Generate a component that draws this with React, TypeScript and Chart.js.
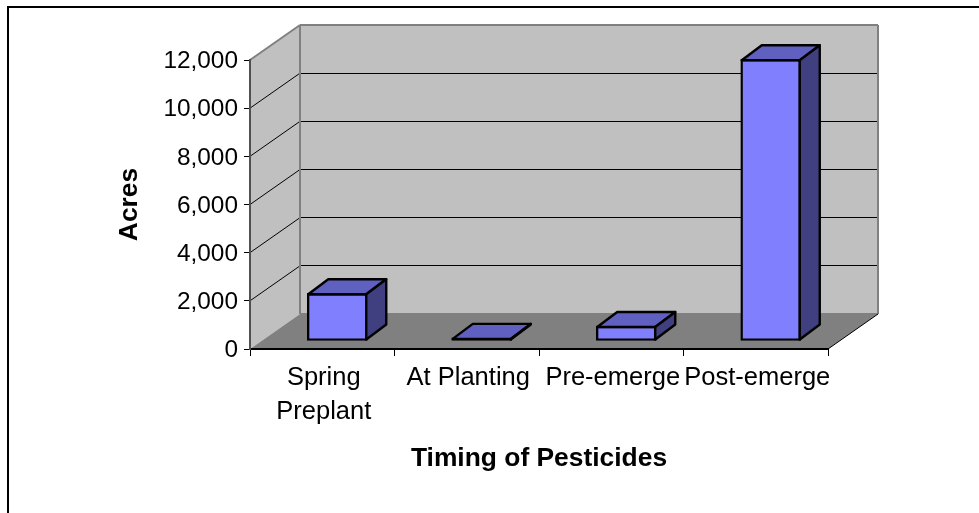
import React, { useEffect, useRef } from "react";
import { Chart, registerables } from "chart.js";

Chart.register(...registerables);

const categories = [["Spring", "Preplant"], "At Planting", "Pre-emerge", "Post-emerge"];
const acres = [1980, 130, 620, 11700];
const yTicksMax = 12000;
const yTickStep = 2000;
const xTitle = "Timing of Pesticides";
const yTitle = "Acres";

const FONT = "'Liberation Sans', Arial, sans-serif";
const DEPTH_X = 50;
const DEPTH_Y = 35;
const BAR_SHIFT_X = 15;
const BAR_SHIFT_Y = 8;
const BAR_DX = 20;
const BAR_DY = 15;

const poly = (ctx: CanvasRenderingContext2D, pts: number[][], fill?: string, stroke?: string, lw = 1) => {
  ctx.beginPath();
  pts.forEach(([x, y], i) => (i ? ctx.lineTo(x, y) : ctx.moveTo(x, y)));
  ctx.closePath();
  if (fill) {
    ctx.fillStyle = fill;
    ctx.fill();
  }
  if (stroke) {
    ctx.strokeStyle = stroke;
    ctx.lineWidth = lw;
    ctx.lineJoin = "round";
    ctx.stroke();
  }
};

const line = (ctx: CanvasRenderingContext2D, a: number[], b: number[], color: string, lw: number) => {
  ctx.beginPath();
  ctx.moveTo(a[0], a[1]);
  ctx.lineTo(b[0], b[1]);
  ctx.strokeStyle = color;
  ctx.lineWidth = lw;
  ctx.stroke();
};

const box3d = {
  id: "box3d",
  beforeDraw(chart: any) {
    const { ctx, chartArea: a, scales } = chart;
    const y = scales.y;
    const L = a.left, R = a.right, T = a.top, B = a.bottom;
    ctx.save();
    // page frame
    line(ctx, [8, 7], [979, 7], "#000", 2);
    line(ctx, [8, 6], [8, 513], "#000", 2);
    // side wall, back wall, floor
    poly(ctx, [[L, T], [L + DEPTH_X, T - DEPTH_Y], [L + DEPTH_X, B - DEPTH_Y], [L, B]], "#C0C0C0");
    poly(ctx, [[L + DEPTH_X, T - DEPTH_Y], [R + DEPTH_X, T - DEPTH_Y], [R + DEPTH_X, B - DEPTH_Y], [L + DEPTH_X, B - DEPTH_Y]], "#C0C0C0");
    poly(ctx, [[L, B], [L + DEPTH_X, B - DEPTH_Y], [R + DEPTH_X, B - DEPTH_Y], [R, B]], "#808080");
    // gridlines on the walls
    for (let v = yTickStep; v < yTicksMax + 1; v += yTickStep) {
      const p = y.getPixelForValue(v);
      if (v < yTicksMax) {
        line(ctx, [L, p], [L + DEPTH_X, p - DEPTH_Y], "#000", 1);
        line(ctx, [L + DEPTH_X, Math.floor(p - DEPTH_Y) + 0.5], [R + DEPTH_X, Math.floor(p - DEPTH_Y) + 0.5], "#000", 1);
      }
    }
    // wall edges
    line(ctx, [L, T], [L + DEPTH_X, T - DEPTH_Y], "#808080", 2);
    line(ctx, [L + DEPTH_X, T - DEPTH_Y], [R + DEPTH_X, T - DEPTH_Y], "#808080", 2);
    line(ctx, [L + DEPTH_X, T - DEPTH_Y], [L + DEPTH_X, B - DEPTH_Y], "#808080", 2);
    line(ctx, [R + DEPTH_X, T - DEPTH_Y], [R + DEPTH_X, B - DEPTH_Y], "#808080", 2);
    line(ctx, [L + DEPTH_X, B - DEPTH_Y], [R + DEPTH_X, B - DEPTH_Y], "#808080", 2);
    line(ctx, [R, B], [R + DEPTH_X, B - DEPTH_Y], "#000", 1);
    ctx.restore();
  },
  beforeDatasetsDraw(chart: any) {
    chart.ctx.save();
    chart.ctx.translate(BAR_SHIFT_X, -BAR_SHIFT_Y);
  },
  afterDatasetsDraw(chart: any) {
    const ctx = chart.ctx;
    chart.getDatasetMeta(0).data.forEach((bar: any) => {
      const { x, y, base, width } = bar.getProps(["x", "y", "base", "width"], true);
      const l = x - width / 2 + 1, r = x + width / 2 - 1, t = y + 1, b = base - 1;
      poly(ctx, [[l, t], [l + BAR_DX, t - BAR_DY], [r + BAR_DX, t - BAR_DY], [r, t]], "#6060C0", "#000", 2.4);
      poly(ctx, [[r, t], [r + BAR_DX, t - BAR_DY], [r + BAR_DX, b - BAR_DY], [r, b]], "#404080", "#000", 2.4);
    });
    ctx.restore();
  },
};

export default function App() {
  const ref = useRef<HTMLCanvasElement>(null);
  useEffect(() => {
    const chart = new Chart(ref.current as HTMLCanvasElement, {
      type: "bar",
      data: {
        labels: categories as any,
        datasets: [
          {
            data: acres,
            backgroundColor: "#8080FF",
            borderColor: "#000",
            borderWidth: 2.4,
            borderSkipped: false,
            barThickness: 60,
          },
        ],
      },
      plugins: [box3d],
      options: {
        responsive: false,
        animation: false,
        layout: { padding: { top: 60, left: 0, right: 151, bottom: 0 } },
        plugins: { legend: { display: false }, tooltip: { enabled: false } },
        scales: {
          x: {
            afterFit: (s: any) => {
              s.height = 164;
            },
            grid: { offset: true, drawOnChartArea: false, tickLength: 7, tickColor: "#000", tickWidth: 1 },
            border: { color: "#000", width: 2 },
            ticks: {
              color: "#000",
              maxRotation: 0,
              autoSkip: false,
              padding: 5,
              labelOffset: 1.5,
              font: { family: FONT, size: 25.5, lineHeight: 1.34 },
            },
            title: {
              display: true,
              text: xTitle,
              color: "#000",
              font: { family: FONT, size: 26.4, weight: "bold" },
              padding: { top: 0, bottom: 38 },
            },
          },
          y: {
            min: 0,
            max: yTicksMax,
            afterFit: (s: any) => {
              s.width = 250;
            },
            grid: { drawOnChartArea: false, tickLength: 6, tickColor: "#000", tickWidth: 1 },
            border: { color: "#505050", width: 2 },
            ticks: {
              stepSize: yTickStep,
              color: "#000",
              padding: 6,
              labelOffset: 1.5,
              font: { family: FONT, size: 24.4 },
              callback: (v: any) => Number(v).toLocaleString("en-US"),
            },
            title: {
              display: true,
              text: yTitle,
              color: "#000",
              font: { family: FONT, size: 26.4, weight: "bold" },
              padding: { top: 114, bottom: 0 },
            },
          },
        },
      },
    } as any);
    return () => chart.destroy();
  }, []);
  return (
    <div style={{ position: "absolute", left: 0, top: 0, width: 979, height: 513, background: "#fff" }}>
      <canvas ref={ref} width={979} height={513} style={{ display: "block" }} />
    </div>
  );
}
